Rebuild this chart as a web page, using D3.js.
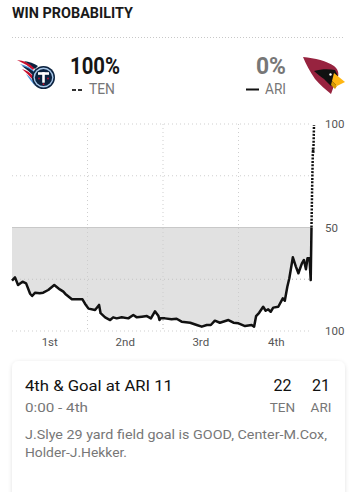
<!DOCTYPE html>
<html>
<head>
<meta charset="utf-8">
<script src="https://cdn.jsdelivr.net/npm/d3@7"></script>
<style>
  html, body { margin: 0; padding: 0; background: #fff; }
  svg { display: block; font-family: Roboto, "Noto Sans", sans-serif; }
</style>
</head>
<body>
<div id="chart"></div>
<script>
// ---- data ----
const gameMinutes = [0, 0.6, 1.2, 2.1, 2.8, 3.6, 4.0, 4.6, 5.5, 6.2, 7.2, 8.4, 9.5, 10.2, 10.6, 11.9, 14.0, 14.5,
  15.2, 16.5, 17.3, 17.6, 18.5, 19.5, 20.1, 20.8, 21.8, 23.1, 24.1, 24.8, 25.8, 26.8, 27.6, 28.4, 29.1, 29.3, 29.5,
  30.4, 31.7, 32.7, 33.7, 35.4, 36.7, 37.7, 38.7, 39.5, 40.3, 41.3, 43.0, 44.0, 45.0, 46.3, 47.6, 48.1,
  48.5, 49.1, 49.9, 50.4, 50.9, 51.4, 51.9, 52.9, 53.8, 54.2, 54.7, 55.1, 55.8, 56.4, 56.9, 57.6, 58.0, 58.4,
  58.7, 59.1, 59.35, 59.5, 59.62, 59.75, 59.8, 59.85, 59.9, 60];
const tenWinPct = [24.3, 25.9, 22.2, 23.8, 23.0, 18.0, 16.9, 18.5, 18.2, 18.5, 19.8, 22.2, 20.1, 19.0, 17.9, 15.3, 15.3, 13.2,
  10.8, 10.1, 12.6, 8.6, 6.6, 5.3, 6.6, 6.1, 6.6, 6.1, 7.7, 6.6, 6.9, 7.2, 6.1, 9.5, 7.2, 5.3, 6.1,
  6.1, 5.7, 5.9, 4.5, 4.0, 2.9, 2.1, 2.9, 2.9, 5.0, 4.0, 5.3, 4.0, 3.7, 2.4, 2.9, 2.1,
  7.2, 8.8, 11.7, 9.8, 10.5, 9.3, 11.3, 11.7, 15.8, 14.6, 21.4, 25.5, 35.6, 31.1, 27.9, 32.7, 34.3, 29.8,
  35.1, 35.1, 24.6, 50.0, 68.0, 84.0, 88.5, 86.0, 89.0, 99.5];
const quarterLabels = ["1st", "2nd", "3rd", "4th"];
const quarterBreaks = [15, 30, 45];
const yTickValues = [100, 50, 0];
const yTickLabels = ["100", "50", "100"];
const gridValues = [100, 75, 25, 0];
const teams = ["TEN", "ARI"];
const teamWinPct = ["100%", "0%"];
const scores = [22, 21];
const playTitle = "4th & Goal at ARI 11";
const playClock = "0:00 - 4th";
const playText = ["J.Slye 29 yard field goal is GOOD, Center-M.Cox,", "Holder-J.Hekker."];

// ---- svg ----
const W = 361, H = 492;
const svg = d3.select("#chart").append("svg").attr("width", W).attr("height", H);
const defs = svg.append("defs");

// heading
svg.append("text").attr("x", 12).attr("y", 18)
  .attr("font-size", 15).attr("font-weight", 700).attr("fill", "#1a1a1a")
  .attr("textLength", 121).attr("lengthAdjust", "spacingAndGlyphs")
  .text("WIN PROBABILITY");
svg.append("line").attr("x1", 12).attr("x2", 345).attr("y1", 37.5).attr("y2", 37.5)
  .attr("stroke", "#c8c8c8").attr("stroke-dasharray", "1,2");

// ---- team header ----
// Titans logo (simplified)
const tl = svg.append("g");
const flame = [
  ["M17,60 Q27,61 35,67 L33,70 Q26,64 17,60 Z", "#C8102E"],
  ["M20,64 Q29,66 34,71 L33,75 Q27,69 20,64 Z", "#4B92DB"],
  ["M22,69 Q29,71 33,76 L33,80 Q28,74 22,69 Z", "#C8102E"],
  ["M24,61 Q32,62 38,66 L35,69 Q30,64 24,61 Z", "#0C2340"],
  ["M26,74 Q31,77 34,83 L35,86 Q30,80 26,74 Z", "#4B92DB"],
  ["M22,66 Q30,68 35,73 L34,76 Q29,71 22,66 Z", "#0C2340"]
];
flame.forEach(f => tl.append("path").attr("d", f[0]).attr("fill", f[1]));
tl.append("circle").attr("cx", 43.5).attr("cy", 77.5).attr("r", 11.5).attr("fill", "#0C2340");
tl.append("circle").attr("cx", 43.5).attr("cy", 77.5).attr("r", 10).attr("fill", "#a9c8ea");
tl.append("circle").attr("cx", 43.5).attr("cy", 77.5).attr("r", 8.6).attr("fill", "#0C2340");
tl.append("rect").attr("x", 38).attr("y", 72.2).attr("width", 11).attr("height", 2.6).attr("fill", "#fff");
tl.append("rect").attr("x", 42.2).attr("y", 72.2).attr("width", 2.6).attr("height", 10.5).attr("fill", "#fff");
[[39, 78.5], [48, 78.5], [43.5, 84.2]].forEach(p =>
  tl.append("circle").attr("cx", p[0]).attr("cy", p[1]).attr("r", 0.9).attr("fill", "#C8102E"));

// Cardinals logo (simplified)
const cl = svg.append("g");
cl.append("path")
  .attr("d", "M303,57 C315,58 327,61 334,66 C338,69 339,73 338,77 L335,83 L331,94 C326,90 320,85 315,79 C310,72 306,64 303,57 Z")
  .attr("fill", "#97233F");
cl.append("path").attr("d", "M314,71 C321,69 329,69 335,70 L338,76 L336,85 L331,86 L324,79 C320,76 317,74 314,71 Z").attr("fill", "#111");
cl.append("path").attr("d", "M334,73 L345,82 L337,86 L332,81 Z").attr("fill", "#FFB612");
cl.append("path").attr("d", "M332,81 L337,86 L335,89 L331,85 Z").attr("fill", "#d99a00");
cl.append("circle").attr("cx", 330.5).attr("cy", 74.5).attr("r", 1.2).attr("fill", "#fff");

// percentages
svg.append("text").attr("x", 70).attr("y", 74).attr("font-size", 23).attr("font-weight", 700)
  .attr("fill", "#161616").attr("textLength", 50).attr("lengthAdjust", "spacingAndGlyphs").text(teamWinPct[0]);
svg.append("text").attr("x", 286).attr("y", 74).attr("font-size", 23).attr("font-weight", 700)
  .attr("text-anchor", "end").attr("fill", "#777").attr("textLength", 30).attr("lengthAdjust", "spacingAndGlyphs")
  .text(teamWinPct[1]);
// legend
svg.append("line").attr("x1", 72).attr("x2", 82).attr("y1", 90).attr("y2", 90)
  .attr("stroke", "#333").attr("stroke-width", 2).attr("stroke-dasharray", "4,2");
svg.append("text").attr("x", 89).attr("y", 94).attr("font-size", 15).attr("fill", "#777")
  .attr("textLength", 26).attr("lengthAdjust", "spacingAndGlyphs").text(teams[0]);
svg.append("line").attr("x1", 246).attr("x2", 259).attr("y1", 89.5).attr("y2", 89.5)
  .attr("stroke", "#111").attr("stroke-width", 2);
svg.append("text").attr("x", 286).attr("y", 94).attr("font-size", 15).attr("fill", "#777")
  .attr("text-anchor", "end").attr("textLength", 21).attr("lengthAdjust", "spacingAndGlyphs").text(teams[1]);

// ---- chart ----
const x = d3.scaleLinear().domain([0, 60]).range([12, 314]);
const y = d3.scaleLinear().domain([0, 100]).range([331, 124]);
const pts = gameMinutes.map((m, i) => ({ m, v: tenWinPct[i] }));

const g = svg.append("g");
g.selectAll("line.vq").data(quarterBreaks).join("line")
  .attr("x1", d => x(d)).attr("x2", d => x(d)).attr("y1", y(100)).attr("y2", y(0))
  .attr("stroke", "#cfcfcf").attr("stroke-dasharray", "1,3");
g.selectAll("line.hg").data(gridValues).join("line")
  .attr("x1", 12).attr("x2", 311).attr("y1", d => y(d)).attr("y2", d => y(d))
  .attr("stroke", "#cfcfcf").attr("stroke-dasharray", "1,3");

defs.append("clipPath").attr("id", "below").append("rect")
  .attr("x", 0).attr("y", y(50)).attr("width", W).attr("height", y(0) - y(50) + 20);
defs.append("clipPath").attr("id", "above").append("rect")
  .attr("x", 0).attr("y", 0).attr("width", W).attr("height", y(50));

const area = d3.area().x(d => x(d.m)).y0(y(50)).y1(d => y(d.v));
g.append("path").datum(pts).attr("d", area).attr("fill", "#e1e1e1").attr("clip-path", "url(#below)");
g.selectAll("line.vq2").data(quarterBreaks).join("line")
  .attr("x1", d => x(d)).attr("x2", d => x(d)).attr("y1", y(100)).attr("y2", y(0))
  .attr("stroke", "#cdcdcd").attr("stroke-dasharray", "1,3").attr("clip-path", "url(#below)");
g.selectAll("line.hg2").data([25]).join("line")
  .attr("x1", 12).attr("x2", 311).attr("y1", d => y(d)).attr("y2", d => y(d))
  .attr("stroke", "#c4c4c4").attr("stroke-dasharray", "1,3");
g.append("line").attr("x1", 12).attr("x2", x(59.6)).attr("y1", y(50)).attr("y2", y(50))
  .attr("stroke", "#c8c8c8").attr("stroke-width", 1);

const line = d3.line().x(d => x(d.m)).y(d => y(d.v));
g.append("path").datum(pts).attr("d", line).attr("fill", "none")
  .attr("stroke", "#111").attr("stroke-width", 2.5).attr("stroke-linejoin", "round")
  .attr("clip-path", "url(#below)");
g.append("path").datum(pts.filter(d => d.m >= 59.5)).attr("d", line).attr("fill", "none")
  .attr("stroke", "#111").attr("stroke-width", 2.5).attr("stroke-dasharray", "2,1.4")
  .attr("clip-path", "url(#above)");

g.selectAll("text.yt").data(yTickValues).join("text")
  .attr("x", 325).attr("y", d => y(d) + 4).attr("font-size", 11.5).attr("fill", "#555")
  .text((d, i) => yTickLabels[i]);
g.selectAll("text.q").data(quarterLabels).join("text")
  .attr("x", (d, i) => x(i * 15 + 7.5)).attr("y", 346).attr("text-anchor", "middle")
  .attr("font-size", 11.5).attr("fill", "#555").text(d => d);

// ---- play card ----
const f = defs.append("filter").attr("id", "shadow").attr("x", "-10%").attr("y", "-10%").attr("width", "120%").attr("height", "130%");
f.append("feDropShadow").attr("dx", 0).attr("dy", 1).attr("stdDeviation", 2)
  .attr("flood-color", "#000").attr("flood-opacity", 0.12);
svg.append("rect").attr("x", 12).attr("y", 361).attr("width", 333).attr("height", 160).attr("rx", 7)
  .attr("fill", "#fff").attr("filter", "url(#shadow)");
svg.append("text").attr("x", 25).attr("y", 391).attr("font-size", 15).attr("fill", "#111")
  .attr("textLength", 148).attr("lengthAdjust", "spacingAndGlyphs").text(playTitle);
svg.append("text").attr("x", 25).attr("y", 412).attr("font-size", 13.5).attr("fill", "#777")
  .attr("textLength", 63).attr("lengthAdjust", "spacingAndGlyphs").text(playClock);
const scoreX = [282.5, 321];
scores.forEach((s, i) => {
  svg.append("text").attr("x", scoreX[i]).attr("y", 391).attr("text-anchor", "middle")
    .attr("font-size", 16).attr("fill", "#111").text(s);
  svg.append("text").attr("x", scoreX[i]).attr("y", 412).attr("text-anchor", "middle")
    .attr("font-size", 13.5).attr("fill", "#777").text(teams[i]);
});
const textLens = [302, 102];
playText.forEach((t, i) => {
  svg.append("text").attr("x", 25).attr("y", 439 + i * 18).attr("font-size", 13.5).attr("fill", "#777")
    .attr("textLength", textLens[i]).attr("lengthAdjust", "spacingAndGlyphs").text(t);
});
</script>
</body>
</html>
